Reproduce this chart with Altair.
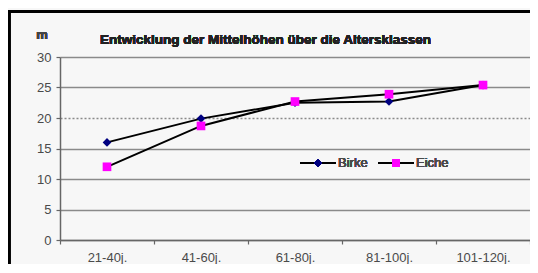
import altair as alt
import pandas as pd

categories = ["21-40j.", "41-60j.", "61-80j.", "81-100j.", "101-120j."]
birke = [16.0, 19.9, 22.5, 22.7, 25.4]
eiche = [12.0, 18.7, 22.7, 23.9, 25.4]
series_names = ["Birke", "Eiche"]
series_colors = ["#000080", "#ff00ff"]
series_shapes = ["diamond", "square"]
title_text = "Entwicklung der Mittelhöhen über die Altersklassen"
unit_text = "m"
y_ticks = [0, 5, 10, 15, 20, 25, 30]

rows = []
for name, vals in zip(series_names, [birke, eiche]):
    for c, v in zip(categories, vals):
        rows.append({"klasse": c, "serie": name, "wert": v})
df = pd.DataFrame(rows)

FONT = "Liberation Sans"
W, H = 470, 183

xenc = alt.X("klasse:N", sort=categories,
             scale=alt.Scale(type="band", paddingInner=0, paddingOuter=0),
             axis=alt.Axis(title=None, tickBand="extent", labelAngle=0,
                           labelFont=FONT, labelFontSize=13, labelColor="#4a4a4a",
                           labelPadding=7, tickSize=4, tickColor="#666",
                           domainColor="#666", domainWidth=1.5, tickWidth=1.2,
                           grid=False, zindex=1))
yenc = alt.Y("wert:Q", scale=alt.Scale(domain=[0, 30], nice=False),
             axis=alt.Axis(title=None, values=y_ticks, grid=True,
                           gridColor="#8a8a8a", gridWidth=1.3,
                           gridDash={"condition": {"test": "datum.value == 20", "value": [2, 2]}, "value": []},
                           labelFont=FONT, labelFontSize=13, labelColor="#4a4a4a",
                           labelPadding=5, tickSize=4, tickColor="#666",
                           domainColor="#666", domainWidth=1.5, tickWidth=1.2,
                           zindex=0))

frame = alt.Chart(df).mark_rect(fill=None, stroke="black", strokeWidth=2.5).encode(
    x=alt.value(-51), x2=alt.value(W + 30), y=alt.value(-45.5), y2=alt.value(H + 50))

lines = alt.Chart(df).mark_line(color="black", strokeWidth=2).encode(
    x=xenc, y=yenc, detail="serie:N", order=alt.Order("serie:N"))

points = alt.Chart(df).mark_point(filled=True, opacity=1, size=75).encode(
    x=xenc, y=yenc,
    color=alt.Color("serie:N", scale=alt.Scale(domain=series_names, range=series_colors), legend=None),
    shape=alt.Shape("serie:N", scale=alt.Scale(domain=series_names, range=series_shapes), legend=None),
    order=alt.Order("serie:N"))

title = alt.Chart(df).mark_text(text=title_text, font=FONT, fontSize=13.5, fontWeight="bold",
                                color="#222", align="left", baseline="middle").encode(
    x=alt.value(40), y=alt.value(-17))
unit = alt.Chart(df).mark_text(text=unit_text, font=FONT, fontSize=13, fontWeight="bold",
                               color="#444", align="center", baseline="middle").encode(
    x=alt.value(-18), y=alt.value(-22))

legend_layers = []
leg_x = [240, 318]
for i, name in enumerate(series_names):
    x0 = leg_x[i]
    legend_layers.append(alt.Chart(df).mark_rule(color="black", strokeWidth=2).encode(
        x=alt.value(x0), x2=alt.value(x0 + 36), y=alt.value(106)))
    legend_layers.append(alt.Chart(df).mark_point(filled=True, opacity=1, size=60,
                                                    shape=series_shapes[i], color=series_colors[i]).encode(
        x=alt.value(x0 + 18), y=alt.value(106)))
    legend_layers.append(alt.Chart(df).mark_text(text=name, font=FONT, fontSize=13, color="#4a4a4a",
                                                 align="left", baseline="middle").encode(
        x=alt.value(x0 + 38), y=alt.value(106)))

chart = alt.layer(frame, lines, points, title, unit, *legend_layers).properties(
    width=W, height=H,
    autosize=alt.AutoSizeParams(type="none"),
    padding={"left": 52, "right": 0, "top": 49, "bottom": 24},
    background="#f7f7f7",
).configure_view(stroke=None)

chart.save("out.html", embed_options={"renderer": "svg", "actions": False})
